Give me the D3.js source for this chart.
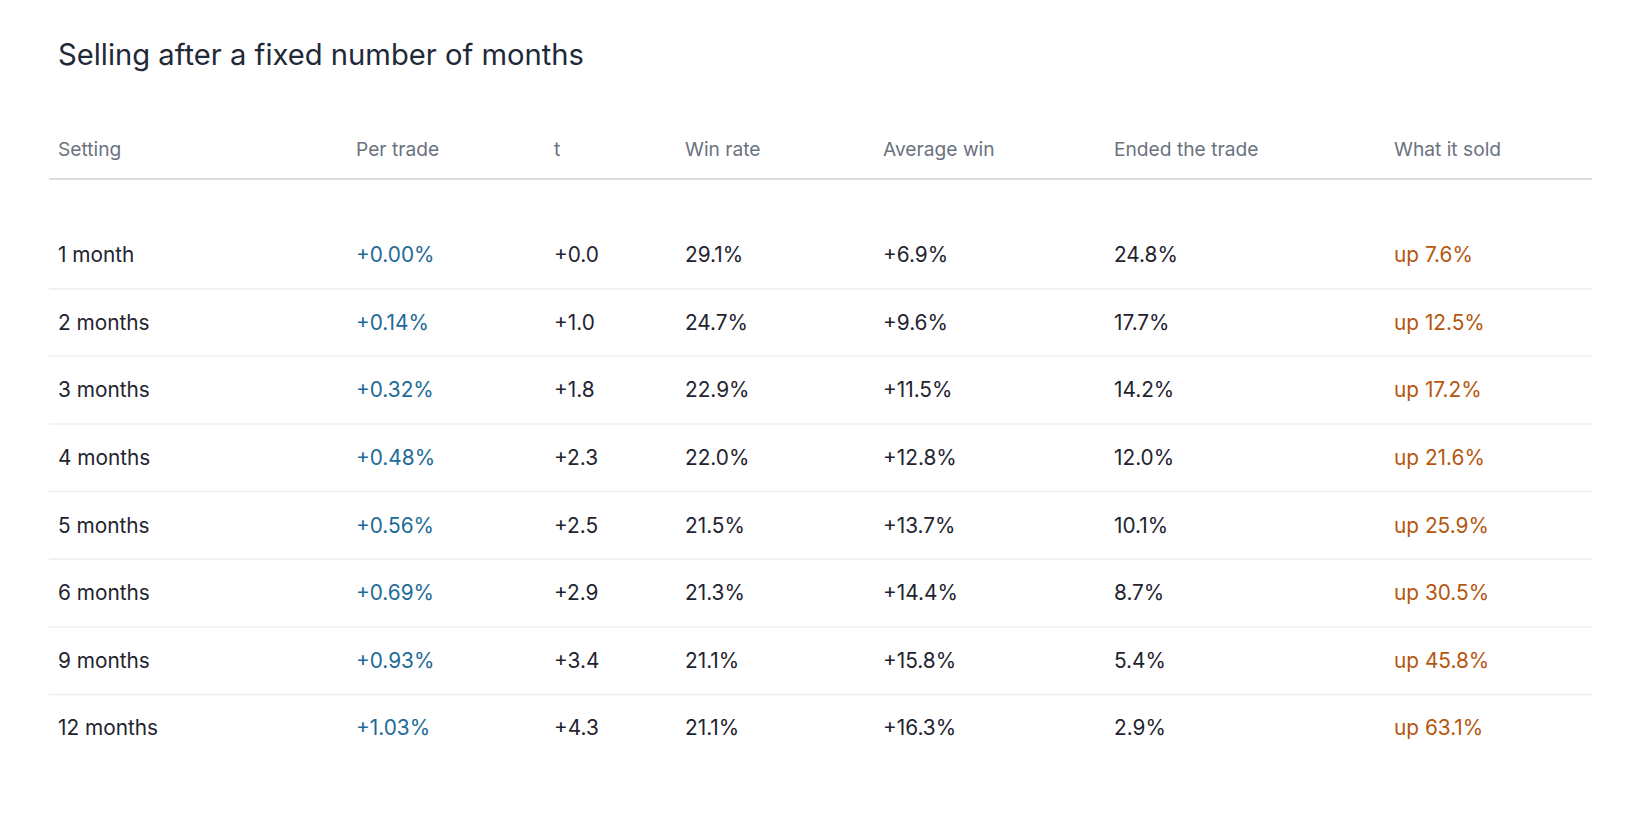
<!DOCTYPE html>
<html><head><meta charset="utf-8">
<script src="https://cdn.jsdelivr.net/npm/d3@7"></script>
<style>
html,body{margin:0;padding:0;background:#fff;}
svg{display:block;font-family:Inter, "Noto Sans", sans-serif;}
</style></head>
<body><svg id="c" width="1650" height="814"></svg>
<script>
const title = "Selling after a fixed number of months";
const columns = ["Setting","Per trade","t","Win rate","Average win","Ended the trade","What it sold"];
const settings = ["1 month","2 months","3 months","4 months","5 months","6 months","9 months","12 months"];
const perTrade = [0.00,0.14,0.32,0.48,0.56,0.69,0.93,1.03];
const tStat = [0.0,1.0,1.8,2.3,2.5,2.9,3.4,4.3];
const winRate = [29.1,24.7,22.9,22.0,21.5,21.3,21.1,21.1];
const avgWin = [6.9,9.6,11.5,12.8,13.7,14.4,15.8,16.3];
const ended = [24.8,17.7,14.2,12.0,10.1,8.7,5.4,2.9];
const sold = [7.6,12.5,17.2,21.6,25.9,30.5,45.8,63.1];

const svg = d3.select("#c");
const left = 49, right = 1592;

svg.append("text").attr("x",58).attr("y",65).attr("font-size",29.2).attr("fill","#1f2937").text(title);

const colX = d3.scaleOrdinal().domain(columns).range([58,356,554,685,883,1114,1394]);
const rowY = d3.scaleBand().domain(settings).range([221, 762]).paddingInner(0).paddingOuter(0);

const sign = v => (v>=0?"+":"") ;
const fmt = {
  "Setting": i => settings[i],
  "Per trade": i => sign(perTrade[i]) + d3.format(".2f")(perTrade[i]) + "%",
  "t": i => sign(tStat[i]) + d3.format(".1f")(tStat[i]),
  "Win rate": i => d3.format(".1f")(winRate[i]) + "%",
  "Average win": i => sign(avgWin[i]) + d3.format(".1f")(avgWin[i]) + "%",
  "Ended the trade": i => d3.format(".1f")(ended[i]) + "%",
  "What it sold": i => "up " + d3.format(".1f")(sold[i]) + "%"
};
const color = {"Per trade":"#1e6b98","What it sold":"#b5570f"};

// header
svg.selectAll("text.h").data(columns).join("text").attr("class","h")
  .attr("x",d=>colX(d)).attr("y",149).attr("dy","0.35em")
  .attr("font-size",19.2).attr("fill","#6b7280").text(d=>d);
svg.append("line").attr("x1",left).attr("x2",right).attr("y1",179).attr("y2",179)
  .attr("stroke","#d9dbe1").attr("stroke-width",2);

// row separators
svg.selectAll("line.sep").data(settings.slice(0,-1)).join("line").attr("class","sep")
  .attr("x1",left).attr("x2",right)
  .attr("y1",d=>rowY(d)+rowY.bandwidth()).attr("y2",d=>rowY(d)+rowY.bandwidth())
  .attr("stroke","#eeeff2").attr("stroke-width",1.5);

const rows = svg.selectAll("g.row").data(settings).join("g").attr("class","row")
  .attr("transform",d=>`translate(0,${rowY(d)+rowY.bandwidth()/2})`);
rows.each(function(d,i){
  d3.select(this).selectAll("text").data(columns).join("text")
    .attr("x",c=>colX(c)).attr("dy","0.35em").attr("font-size",20.8)
    .attr("fill",c=>color[c]||"#1f2430").text(c=>fmt[c](i));
});
</script></body></html>
